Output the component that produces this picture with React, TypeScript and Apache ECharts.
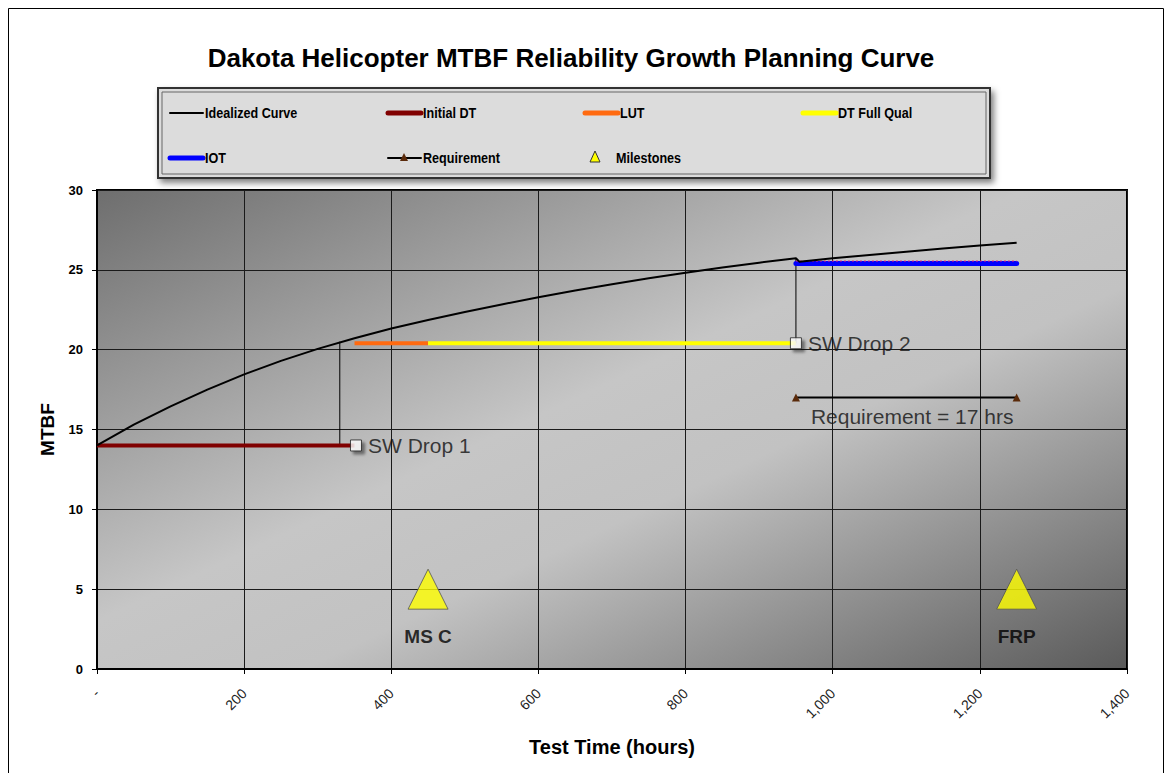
import React, { useEffect, useRef } from 'react';
import * as echarts from 'echarts';

const FONT = "'Liberation Sans', Arial, sans-serif";
const NARROW = "'Liberation Sans Narrow', 'Liberation Sans', Arial, sans-serif";

// Idealized curve (test hours, MTBF)
const curveHours = [0, 50, 100, 150, 200, 250, 300, 350, 400, 450, 500, 550, 600, 650, 700, 750, 800, 850, 900, 950, 955, 1000, 1050, 1100, 1150, 1200, 1250];
const curveMtbf = [14.0, 15.3, 16.45, 17.5, 18.45, 19.3, 20.05, 20.72, 21.32, 21.86, 22.36, 22.83, 23.28, 23.7, 24.1, 24.47, 24.82, 25.15, 25.45, 25.72, 25.5, 25.72, 25.93, 26.13, 26.33, 26.52, 26.7];

// Test phases: [start, end, MTBF]
const initialDT = [0, 350, 14.0];
const lut = [350, 450, 20.4];
const dtFullQual = [450, 950, 20.4];
const iot = [950, 1250, 25.4];
const iotDashed = [950, 1250, 25.55];

// Software drops: hours, MTBF, label
const dropHours = [352, 950];
const dropMtbf = [14.0, 20.4];
const dropLabels = ['SW Drop 1', 'SW Drop 2'];
// drop connector lines: [hours, top, bottom]
const dropLines = [[330, 20.5, 14.0], [950, 25.72, 20.4]];

// Requirement
const reqHours = [950, 1250];
const reqValue = 17;
const reqLabel = 'Requirement = 17 hrs';
const reqLabelPos = [1108, 15.8];

// Milestones
const milestoneHours = [450, 1250];
const milestoneMtbf = [5, 5];
const milestoneLabels = ['MS C', 'FRP'];

export default function App() {
  const ref = useRef<HTMLDivElement>(null);
  useEffect(() => {
    if (!ref.current) return;
    const chart = echarts.init(ref.current, null, { renderer: 'svg' });

    const seg = (s: number[]) => [[s[0], s[2]], [s[1], s[2]]];

    const legendItems: any[] = [];
    const legendText = (x: number, y: number, text: string) => ({
      type: 'text', x, y, scaleX: 0.84,
      style: { text, font: `bold 15px ${NARROW}`, fill: '#000', verticalAlign: 'middle' },
    });
    const lineItem = (x: number, y: number, color: string, w: number, text: string) => {
      legendItems.push({ type: 'line', shape: { x1: x, y1: y, x2: x + 33, y2: y }, style: { stroke: color, lineWidth: w, lineCap: 'round' } });
      legendItems.push(legendText(x + 35, y, text));
    };
    lineItem(170, 113, '#000', 2, 'Idealized Curve');
    lineItem(388, 113, '#800000', 5, 'Initial DT');
    lineItem(585, 113, '#FF6A10', 5, 'LUT');
    lineItem(803, 113, '#FFFF00', 5, 'DT Full Qual');
    lineItem(170, 158, '#0000FF', 5, 'IOT');
    lineItem(388, 158, '#000', 2, 'Requirement');
    legendItems.push({ type: 'polygon', shape: { points: [[404, 153], [400, 161], [408, 161]] }, style: { fill: '#5a2a0a' } });
    legendItems.push({ type: 'polygon', shape: { points: [[595, 151], [590, 162], [600, 162]] }, style: { fill: '#FFFF00', stroke: '#333', lineWidth: 1 } });
    legendItems.push(legendText(616, 158, 'Milestones'));

    const series: any[] = [
      {
        name: 'Initial DT', type: 'line', data: seg(initialDT), showSymbol: false,
        lineStyle: { color: '#800000', width: 4 }, z: 3,
      },
      {
        name: 'LUT', type: 'line', data: seg(lut), showSymbol: false,
        lineStyle: { color: '#FF6A10', width: 4 }, z: 3,
      },
      {
        name: 'DT Full Qual', type: 'line', data: seg(dtFullQual), showSymbol: false,
        lineStyle: { color: '#FFFF00', width: 4 }, z: 3,
      },
      {
        name: 'IOT', type: 'line', data: seg(iot), showSymbol: false,
        lineStyle: { color: '#0000FF', width: 5, cap: 'round' }, z: 3,
      },
      {
        name: 'IOT target', type: 'line', data: seg(iotDashed), showSymbol: false,
        lineStyle: { color: '#E0207A', width: 1, type: [2, 2] }, z: 4,
      },
      ...dropLines.map((d, i) => ({
        name: 'Drop line ' + (i + 1), type: 'line', data: [[d[0], d[1]], [d[0], d[2]]], showSymbol: false,
        lineStyle: { color: '#000', width: 1 }, z: 2,
      })),
      {
        name: 'Idealized Curve', type: 'line', data: curveHours.map((h, i) => [h, curveMtbf[i]]), showSymbol: false,
        lineStyle: { color: '#000', width: 2, join: 'round' }, z: 5,
      },
      {
        name: 'Requirement', type: 'line', data: reqHours.map((h) => [h, reqValue]), symbol: 'triangle', symbolSize: 8,
        itemStyle: { color: '#5a2a0a' }, lineStyle: { color: '#000', width: 2 }, z: 5,
      },
      {
        name: 'Requirement label', type: 'scatter', data: [reqLabelPos], symbolSize: 0,
        label: { show: true, position: 'inside', formatter: reqLabel, color: '#111', fontFamily: FONT, fontSize: 21 },
        z: 6,
      },
      {
        name: 'SW Drops', type: 'scatter', data: dropHours.map((h, i) => ({ value: [h, dropMtbf[i]], label: { formatter: dropLabels[i] } })),
        symbol: 'rect', symbolSize: 11,
        itemStyle: { color: '#fff', borderColor: '#222', borderWidth: 1, shadowBlur: 3, shadowOffsetX: 3, shadowOffsetY: 3, shadowColor: 'rgba(0,0,0,0.55)' },
        label: { show: true, position: 'right', distance: 6, color: '#111', fontFamily: FONT, fontSize: 21 },
        z: 7,
      },
      {
        name: 'Milestones', type: 'scatter', data: milestoneHours.map((h, i) => ({ value: [h, milestoneMtbf[i]], label: { formatter: milestoneLabels[i] } })),
        symbol: 'triangle', symbolSize: [40, 40],
        itemStyle: { color: '#FFFF00', borderColor: '#555', borderWidth: 1 },
        label: { show: true, position: 'bottom', distance: 17, color: '#000', fontFamily: FONT, fontSize: 19, fontWeight: 'bold' },
        z: 7,
      },
    ];

    chart.setOption({
      animation: false,
      textStyle: { fontFamily: FONT },
      title: {
        text: 'Dakota Helicopter MTBF Reliability Growth Planning Curve',
        left: 566, top: 40, textAlign: 'center',
        textStyle: { fontFamily: FONT, fontSize: 26, fontWeight: 'bold', color: '#000' },
      },
      grid: {
        left: 97, right: 44, top: 190, bottom: 104, show: true,
        borderColor: '#000', borderWidth: 2,
        backgroundColor: new echarts.graphic.LinearGradient(0, 0, 1, 1, [
          { offset: 0, color: '#6e6e6e' },
          { offset: 0.45, color: '#c6c6c6' },
          { offset: 0.6, color: '#c2c2c2' },
          { offset: 1, color: '#5a5a5a' },
        ]),
      },
      xAxis: {
        type: 'value', min: 0, max: 1400, interval: 200,
        name: 'Test Time (hours)', nameLocation: 'middle', nameGap: 68,
        nameTextStyle: { fontFamily: FONT, fontSize: 20, fontWeight: 'bold', color: '#000' },
        axisLine: { show: true, lineStyle: { color: '#000', width: 2 } },
        axisTick: { show: true, length: 5, lineStyle: { color: '#000' } },
        splitLine: { show: true, lineStyle: { color: '#1a1a1a', width: 1 } },
        axisLabel: {
          rotate: 45, margin: 22,
          color: '#222', fontFamily: FONT, fontSize: 14,
          formatter: (v: number) => (v === 0 ? '-' : v.toLocaleString('en-US')),
        },
      },
      yAxis: {
        type: 'value', min: 0, max: 30, interval: 5,
        name: 'MTBF', nameLocation: 'middle', nameGap: 40, nameRotate: 90,
        nameTextStyle: { fontFamily: FONT, fontSize: 19, fontWeight: 'bold', color: '#000' },
        axisLine: { show: true, lineStyle: { color: '#000', width: 2 } },
        axisTick: { show: true, length: 5, lineStyle: { color: '#000' } },
        splitLine: { show: true, lineStyle: { color: '#1a1a1a', width: 1 } },
        axisLabel: { color: '#000', fontFamily: NARROW, fontSize: 13, fontWeight: 'bold', margin: 14 },
      },
      graphic: [
        { type: 'rect', shape: { x: 8.5, y: 8.5, width: 1155, height: 800 }, style: { fill: 'none', stroke: '#000', lineWidth: 1 }, z: -10 },
        {
          type: 'rect', shape: { x: 158, y: 88, width: 832, height: 90 },
          style: { fill: '#dcdcdc', stroke: '#333', lineWidth: 2, shadowBlur: 6, shadowOffsetX: 3, shadowOffsetY: 4, shadowColor: 'rgba(0,0,0,0.5)' },
        },
        { type: 'rect', shape: { x: 162, y: 92, width: 824, height: 82 }, style: { fill: 'none', stroke: '#666', lineWidth: 1 } },
        ...legendItems,
      ],
      series,
    });
    return () => chart.dispose();
  }, []);
  return <div ref={ref} style={{ position: 'absolute', left: 0, top: 0, width: 1171, height: 773, background: '#fff' }} />;
}
